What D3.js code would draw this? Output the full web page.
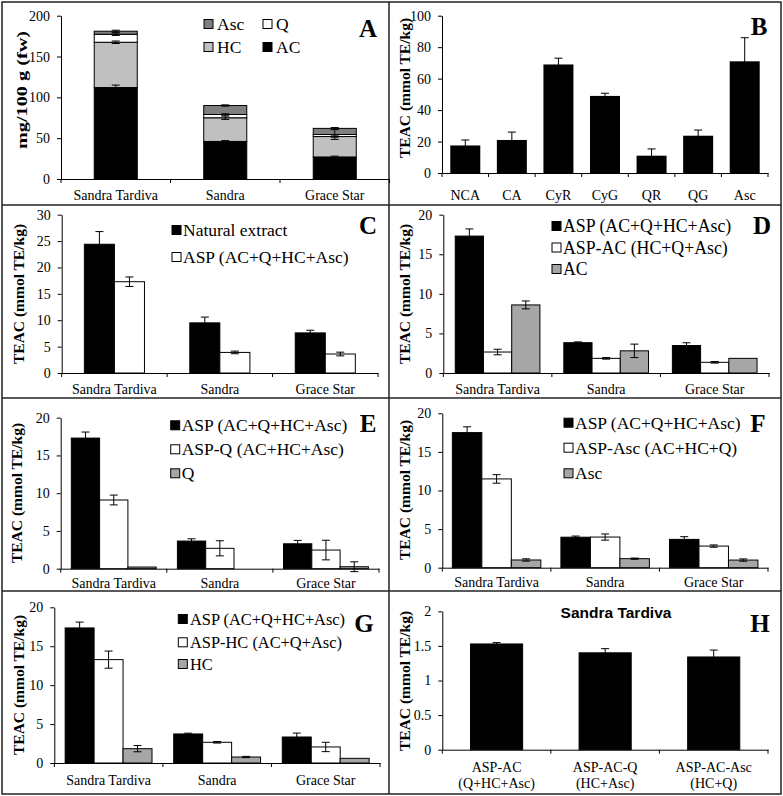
<!DOCTYPE html>
<html>
<head>
<meta charset="utf-8">
<script src="https://cdn.jsdelivr.net/npm/d3@7/dist/d3.min.js"></script>
<style>
  body { margin: 0; background: #fff; }
  text { font-family: "Liberation Serif", "Times New Roman", serif; fill: #000; }
  .axis text { font-family: "Liberation Serif", "Times New Roman", serif; font-size: 14px; }
  .axis path, .axis line { stroke: #000; }
  .ylabel { font-size: 15.5px; font-weight: bold; }
  .letter { font-size: 25px; font-weight: bold; }
  .legend { font-size: 17.5px; }
  .title { font-family: "Liberation Sans", Arial, sans-serif; font-size: 15.5px; font-weight: bold; }
</style>
</head>
<body>
<script>
// values
var cultivars = ["Sandra Tardiva", "Sandra", "Grace Star"];

// A - content, mg/100 g fw (stacked)
var aAC = [112, 46, 27],      aACErr = [3, 1, 1];
var aHC = [55.5, 29, 25],     aHCErr = [1.5, 2, 0.8];
var aQ = [9.8, 4, 2.5],       aQErr = [1.5, 0.8, 6];
var aAsc = [3.7, 11, 7.5],    aAscErr = [1.2, 0.8, 1];

// B - single compounds
var bLabels = ["NCA", "CA", "CyR", "CyG", "QR", "QG", "Asc"];
var bVal = [17.5, 21, 69, 49, 11, 23.7, 71];
var bErr = [3.5, 5, 4, 1.7, 4.3, 3.6, 15];

// C
var cNatural = [24.4, 9.5, 7.6], cNaturalErr = [2.4, 1.1, 0.5];
var cASP = [17.3, 3.9, 3.6],     cASPErr = [0.9, 0.25, 0.35];

// D
var dASP = [17.3, 3.83, 3.47],   dASPErr = [0.9, 0.1, 0.35];
var dASPAC = [2.65, 1.85, 1.35], dASPACErr = [0.35, 0.1, 0.1];
var dAC = [8.6, 2.8, 1.85],      dACErr = [0.5, 0.85, 0];

// E
var eASP = [17.3, 3.66, 3.3],    eASPErr = [0.8, 0.3, 0.45];
var eASPQ = [9.1, 2.7, 2.47],    eASPQErr = [0.65, 1.0, 1.3];
var eQ = [0.22, 0, 0.26],        eQErr = [0, 0, 0.65];

// F
var fASP = [17.5, 3.95, 3.67],   fASPErr = [0.75, 0.15, 0.35];
var fASPAsc = [11.5, 3.97, 2.8], fASPAscErr = [0.55, 0.4, 0.15];
var fAsc = [1.0, 1.17, 0.99],    fAscErr = [0.15, 0.08, 0.15];

// G
var gASP = [17.35, 3.73, 3.34],  gASPErr = [0.75, 0.1, 0.5];
var gASPHC = [13.28, 2.66, 2.06], gASPHCErr = [1.1, 0.1, 0.6];
var gHC = [1.84, 0.77, 0.6],     gHCErr = [0.4, 0.08, 0];

// H - Sandra Tardiva
var hLabels = ["ASP-AC", "ASP-AC-Q", "ASP-AC-Asc"];
var hLabels2 = ["(Q+HC+Asc)", "(HC+Asc)", "(HC+Q)"];
var hVal = [1.528, 1.40, 1.34];
var hErr = [0.02, 0.06, 0.1];

var gray = "#a6a6a6";

var svg = d3.select("body").append("svg")
    .attr("width", 783)
    .attr("height", 796);

// panel grid
var frame = svg.append("g").attr("stroke", "#222").attr("stroke-width", 1.5).attr("fill", "none");
frame.append("rect").attr("x", 2).attr("y", 2).attr("width", 779).attr("height", 792);
frame.append("line").attr("x1", 389).attr("x2", 389).attr("y1", 2).attr("y2", 794);
[205, 398, 591].forEach(function(yy) {
  frame.append("line").attr("x1", 2).attr("x2", 781).attr("y1", yy).attr("y2", yy);
});

function errBar(g, cx, y, v, e) {
  if (!e) return;
  var w = 4;
  g.append("line").attr("x1", cx).attr("x2", cx).attr("y1", y(v - e)).attr("y2", y(v + e))
      .attr("stroke", "#000");
  [v - e, v + e].forEach(function(t) {
    g.append("line").attr("x1", cx - w).attr("x2", cx + w).attr("y1", y(t)).attr("y2", y(t))
        .attr("stroke", "#000");
  });
}

function axes(g, p, x, y) {
  g.append("g")
      .attr("class", "axis")
      .attr("transform", "translate(" + p.xr[0] + ",0)")
      .call(d3.axisLeft(y).tickValues(p.ticks).tickSize(4).tickSizeOuter(0).tickPadding(7)
          .tickFormat(function(d) { return String(d); }));

  var xa = g.append("g")
      .attr("class", "axis")
      .attr("transform", "translate(0," + p.yr[0] + ")")
      .call(d3.axisBottom(x).tickSize(0).tickSizeOuter(0).tickPadding(p.lab));
  if (p.lines2) {
    xa.selectAll(".tick text").remove();
    xa.selectAll(".tick").append("text")
        .attr("text-anchor", "middle")
        .attr("y", 22)
        .each(function(d, i) {
          d3.select(this).append("tspan").attr("x", 0).text(d);
          d3.select(this).append("tspan").attr("x", 0).attr("dy", 16).text(p.lines2[i]);
        });
  }

  // category border ticks
  var borders = d3.range(p.cats.length + 1).map(function(i) { return p.xr[0] + i * x.step(); });
  g.selectAll(null).data(borders).enter().append("line")
      .attr("x1", function(d) { return d; })
      .attr("x2", function(d) { return d; })
      .attr("y1", p.yr[0])
      .attr("y2", p.yr[0] + 4)
      .attr("stroke", "#000");

  g.append("text")
      .attr("class", "ylabel")
      .attr("text-anchor", "middle")
      .attr("transform", "translate(" + p.ylx + "," + p.yly + ") rotate(-90)")
      .attr("dy", "0.35em")
      .text(p.ylabel);

  g.append("text")
      .attr("class", "letter")
      .attr("text-anchor", "middle")
      .attr("x", p.letter[0])
      .attr("y", p.letter[1])
      .attr("dy", "0.35em")
      .text(p.letter[2]);
}

function legend(g, items, sx, tx, ys, fs) {
  items.forEach(function(it, i) {
    g.append("rect")
        .attr("x", sx[i]).attr("y", ys[i] - 4.5)
        .attr("width", 9).attr("height", 9)
        .attr("fill", it[1]).attr("stroke", "#000");
    g.append("text")
        .attr("class", "legend")
        .attr("x", tx[i]).attr("y", ys[i])
        .attr("dy", "0.35em")
        .style("font-size", (fs || 17.5) + "px")
        .text(it[0]);
  });
}

function groupedPanel(p) {
  var g = svg.append("g");
  var x = d3.scaleBand().domain(p.cats).range(p.xr)
      .paddingInner(p.pad).paddingOuter(p.pad / 2);
  var y = d3.scaleLinear().domain([0, p.ymax]).range(p.yr);
  var x1 = d3.scaleBand().domain(d3.range(p.series.length)).range([0, x.bandwidth()]);

  p.series.forEach(function(s, k) {
    g.selectAll(null)
        .data(s.values)
        .enter().append("rect")
        .attr("x", function(d, i) { return x(p.cats[i]) + x1(k); })
        .attr("y", function(d) { return y(d); })
        .attr("width", x1.bandwidth())
        .attr("height", function(d) { return y(0) - y(d); })
        .attr("fill", s.color)
        .attr("stroke", "#000");
  });
  p.series.forEach(function(s, k) {
    s.values.forEach(function(v, i) {
      errBar(g, x(p.cats[i]) + x1(k) + x1.bandwidth() / 2, y, v, s.err[i]);
    });
  });

  axes(g, p, x, y);
  if (p.legend) legend(g, p.legend.items, p.legend.sx, p.legend.tx, p.legend.ys, p.legend.fs);
  return g;
}

// ---- A: stacked content ----
(function() {
  var p = {
    cats: cultivars, xr: [61, 389.5], yr: [179, 15.7], ymax: 200, ticks: [0, 50, 100, 150, 200],
    lab: 11, ylx: 22, yly: 90, ylabel: "mg/100 g (fw)", letter: [368, 28, "A"]
  };
  var table = cultivars.map(function(c, i) {
    return { cult: c, AC: aAC[i], HC: aHC[i], Q: aQ[i], Asc: aAsc[i] };
  });
  var errs = { AC: aACErr, HC: aHCErr, Q: aQErr, Asc: aAscErr };
  var colors = { AC: "#000", HC: "#c0c0c0", Q: "#fff", Asc: "#7f7f7f" };
  var stack = d3.stack().keys(["AC", "HC", "Q", "Asc"])(table);

  var g = svg.append("g");
  var x = d3.scaleBand().domain(p.cats).range(p.xr).paddingInner(0.607).paddingOuter(0.3035);
  var y = d3.scaleLinear().domain([0, p.ymax]).range(p.yr);

  stack.forEach(function(layer) {
    g.selectAll(null)
        .data(layer)
        .enter().append("rect")
        .attr("x", function(d) { return x(d.data.cult); })
        .attr("y", function(d) { return y(d[1]); })
        .attr("width", x.bandwidth())
        .attr("height", function(d) { return y(d[0]) - y(d[1]); })
        .attr("fill", colors[layer.key])
        .attr("stroke", "#000");
  });
  stack.forEach(function(layer) {
    layer.forEach(function(d, i) {
      errBar(g, x(d.data.cult) + x.bandwidth() / 2, y, d[1], errs[layer.key][i]);
    });
  });

  axes(g, p, x, y);
  g.select(".ylabel").attr("textLength", 118).attr("lengthAdjust", "spacingAndGlyphs");
  legend(g, [["Asc", colors.Asc], ["Q", colors.Q], ["HC", colors.HC], ["AC", colors.AC]],
      [204, 263, 204, 263], [217, 276, 217, 276], [24, 24, 47, 47]);
})();

// ---- B: single compounds ----
(function() {
  var p = {
    cats: bLabels, xr: [442, 768], yr: [173, 15.7], ymax: 100, ticks: [0, 20, 40, 60, 80, 100],
    lab: 17, ylx: 405, yly: 88, ylabel: "TEAC (mmol TE/kg)", letter: [759, 26, "B"]
  };
  var g = svg.append("g");
  var x = d3.scaleBand().domain(p.cats).range(p.xr).paddingInner(0.356).paddingOuter(0.178);
  var y = d3.scaleLinear().domain([0, p.ymax]).range(p.yr);
  g.selectAll(".bar")
      .data(bVal)
      .enter().append("rect")
      .attr("x", function(d, i) { return x(bLabels[i]); })
      .attr("y", function(d) { return y(d); })
      .attr("width", x.bandwidth())
      .attr("height", function(d) { return y(0) - y(d); })
      .attr("fill", "#000");
  bVal.forEach(function(v, i) {
    errBar(g, x(bLabels[i]) + x.bandwidth() / 2, y, v, bErr[i]);
  });
  axes(g, p, x, y);
})();

// ---- C ----
groupedPanel({
  cats: cultivars, xr: [61.7, 378], yr: [373, 214.7], ymax: 30, ticks: [0, 5, 10, 15, 20, 25, 30],
  pad: 0.43, lab: 11, ylx: 19, yly: 294, ylabel: "TEAC (mmol TE/kg)", letter: [368, 225, "C"],
  series: [
    { values: cNatural, err: cNaturalErr, color: "#000" },
    { values: cASP, err: cASPErr, color: "#fff" }
  ],
  legend: { items: [["Natural extract", "#000"], ["ASP (AC+Q+HC+Asc)", "#fff"]],
            sx: [172, 172], tx: [183, 183], ys: [230, 257] }
});

// ---- D ----
groupedPanel({
  cats: cultivars, xr: [443.3, 769], yr: [373, 214.7], ymax: 20, ticks: [0, 5, 10, 15, 20],
  pad: 0.22, lab: 11, ylx: 405, yly: 294, ylabel: "TEAC (mmol TE/kg)", letter: [762, 225, "D"],
  series: [
    { values: dASP, err: dASPErr, color: "#000" },
    { values: dASPAC, err: dASPACErr, color: "#fff" },
    { values: dAC, err: dACErr, color: gray }
  ],
  legend: { items: [["ASP (AC+Q+HC+Asc)", "#000"], ["ASP-AC (HC+Q+Asc)", "#fff"], ["AC", gray]],
            sx: [552, 552, 552], tx: [563, 563, 563], ys: [226, 247.5, 269], fs: 17.8 }
});

// ---- E ----
groupedPanel({
  cats: cultivars, xr: [60.7, 379], yr: [568.7, 417.7], ymax: 20, ticks: [0, 5, 10, 15, 20],
  pad: 0.2, lab: 9, ylx: 17, yly: 493, ylabel: "TEAC (mmol TE/kg)", letter: [368, 423, "E"],
  series: [
    { values: eASP, err: eASPErr, color: "#000" },
    { values: eASPQ, err: eASPQErr, color: "#fff" },
    { values: eQ, err: eQErr, color: gray }
  ],
  legend: { items: [["ASP (AC+Q+HC+Asc)", "#000"], ["ASP-Q (AC+HC+Asc)", "#fff"], ["Q", gray]],
            sx: [170.7, 170.7, 170.7], tx: [181.7, 181.7, 181.7], ys: [425.3, 449.3, 473.3] }
});

// ---- F ----
groupedPanel({
  cats: cultivars, xr: [442.3, 768], yr: [567.7, 413.3], ymax: 20, ticks: [0, 5, 10, 15, 20],
  pad: 0.185, lab: 9, ylx: 405, yly: 490, ylabel: "TEAC (mmol TE/kg)", letter: [758, 423, "F"],
  series: [
    { values: fASP, err: fASPErr, color: "#000" },
    { values: fASPAsc, err: fASPAscErr, color: "#fff" },
    { values: fAsc, err: fAscErr, color: gray }
  ],
  legend: { items: [["ASP (AC+Q+HC+Asc)", "#000"], ["ASP-Asc (AC+HC+Q)", "#fff"], ["Asc", gray]],
            sx: [564, 564, 564], tx: [575, 575, 575], ys: [422.7, 447.7, 473.3] }
});

// ---- G ----
groupedPanel({
  cats: cultivars, xr: [54.3, 380], yr: [763, 607.3], ymax: 20, ticks: [0, 5, 10, 15, 20],
  pad: 0.2, lab: 12, ylx: 19, yly: 685, ylabel: "TEAC (mmol TE/kg)", letter: [364, 623, "G"],
  series: [
    { values: gASP, err: gASPErr, color: "#000" },
    { values: gASPHC, err: gASPHCErr, color: "#fff" },
    { values: gHC, err: gHCErr, color: gray }
  ],
  legend: { items: [["ASP (AC+Q+HC+Asc)", "#000"], ["ASP-HC (AC+Q+Asc)", "#fff"], ["HC", gray]],
            sx: [178.3, 178.3, 178.3], tx: [190, 190, 190], ys: [619, 642.3, 664], fs: 16.4 }
});

// ---- H: Sandra Tardiva only ----
var gh = groupedPanel({
  cats: hLabels, lines2: hLabels2, xr: [442.3, 768], yr: [749.7, 611.3], ymax: 2,
  ticks: [0, 0.5, 1, 1.5, 2],
  pad: 0.52, lab: 10, ylx: 405, yly: 681, ylabel: "TEAC (mmol TE/kg)", letter: [760, 623, "H"],
  series: [{ values: hVal, err: hErr, color: "#000" }]
});
gh.append("text")
    .attr("class", "title")
    .attr("text-anchor", "middle")
    .attr("x", 616)
    .attr("y", 613)
    .attr("dy", "0.35em")
    .text("Sandra Tardiva");
</script>
</body>
</html>
